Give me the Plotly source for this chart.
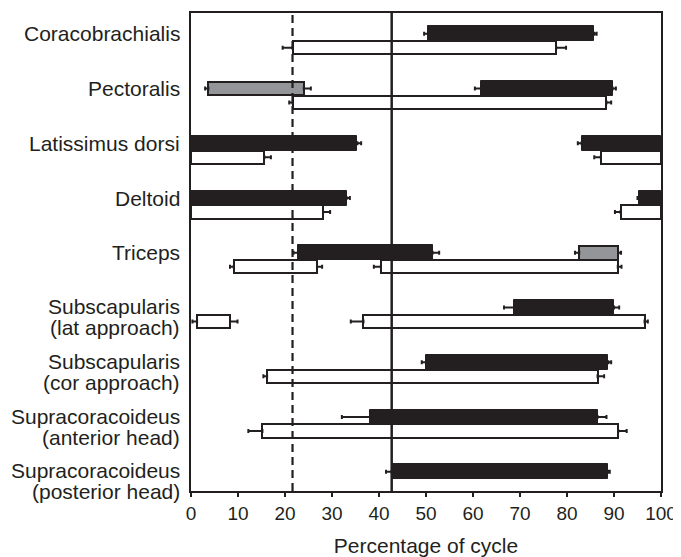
import plotly.graph_objects as go

# ---- Data ----
muscles = [
    ["Coracobrachialis"],
    ["Pectoralis"],
    ["Latissimus dorsi"],
    ["Deltoid"],
    ["Triceps"],
    ["Subscapularis", "(lat approach)"],
    ["Subscapularis", "(cor approach)"],
    ["Supracoracoideus", "(anterior head)"],
    ["Supracoracoideus", "(posterior head)"],
]

# black (top sub-row) activity segments
black_row = [0, 1, 2, 2, 3, 3, 4, 5, 6, 7, 8]
black_start = [50.5, 61.7, 0, 83.1, 0, 95.4, 22.8, 68.8, 50.0, 38.1, 42.7]
black_end = [85.8, 89.7, 35.4, 100, 33.1, 100, 51.4, 90.0, 88.8, 86.5, 88.7]
black_start_err = [0.9, 1.3, 0, 0.8, 0, 0.4, 1.0, 2.2, 0.9, 6.0, 1.2]
black_end_err = [0.5, 0.7, 0.8, 0, 0.7, 0, 1.4, 1.1, 0.6, 1.9, 0.4]

# grey (top sub-row) activity segments
gray_row = [1, 4]
gray_start = [3.7, 82.6]
gray_end = [24.0, 90.9]
gray_start_err = [0.7, 0.9]
gray_end_err = [1.5, 0.6]

# white (bottom sub-row) activity segments
white_row = [0, 1, 2, 2, 3, 3, 4, 4, 5, 5, 6, 7]
white_start = [21.6, 21.6, 0, 87.2, 0, 91.4, 9.1, 40.4, 1.3, 36.7, 16.2, 15.2]
white_end = [77.7, 88.4, 15.6, 100, 28.1, 100, 26.8, 90.8, 8.3, 96.5, 86.5, 90.9]
white_start_err = [2.1, 0.7, 0, 1.4, 0, 1.2, 0.8, 1.5, 1.0, 2.7, 0.8, 3.0]
white_end_err = [2.1, 1.0, 1.4, 0, 1.5, 0, 1.1, 0.8, 1.6, 0.7, 1.4, 1.8]

dashed_line_x = 21.6
solid_line_x = 42.7

x_ticks = [0, 10, 20, 30, 40, 50, 60, 70, 80, 90, 100]

# ---- Style ----
BLACK = "#231f20"
GRAY = "#939598"
WHITE_OFFSET = 0.252
FONT = "Liberation Sans, Arial, Helvetica, sans-serif"

fig = go.Figure()


def add_segments(rows, starts, ends, serr, eerr, fill, line_w, offset, height):
    ys = [r + offset for r in rows]
    fig.add_trace(go.Bar(
        orientation="h", y=ys, base=starts,
        x=[e - s for s, e in zip(starts, ends)],
        width=height,
        marker=dict(color=fill, line=dict(color=BLACK, width=line_w)),
        showlegend=False, hoverinfo="skip",
    ))
    # start whiskers (leftwards)
    sx = [s for s, er in zip(starts, serr) if er > 0]
    sy = [y for y, er in zip(ys, serr) if er > 0]
    se = [er for er in serr if er > 0]
    fig.add_trace(go.Scatter(
        x=sx, y=sy, mode="markers", marker=dict(size=1, opacity=0),
        error_x=dict(type="data", symmetric=False, array=[0] * len(se),
                     arrayminus=se, color=BLACK, thickness=2, width=2),
        showlegend=False, hoverinfo="skip",
    ))
    # end whiskers (rightwards)
    ex = [e for e, er in zip(ends, eerr) if er > 0]
    ey = [y for y, er in zip(ys, eerr) if er > 0]
    ee = [er for er in eerr if er > 0]
    fig.add_trace(go.Scatter(
        x=ex, y=ey, mode="markers", marker=dict(size=1, opacity=0),
        error_x=dict(type="data", symmetric=False, array=ee,
                     arrayminus=[0] * len(ee), color=BLACK, thickness=2, width=2),
        showlegend=False, hoverinfo="skip",
    ))


add_segments(white_row, white_start, white_end, white_start_err, white_end_err,
             "white", 2, WHITE_OFFSET, 0.242)
add_segments(black_row, black_start, black_end, black_start_err, black_end_err,
             BLACK, 1, 0, 0.272)
add_segments(gray_row, gray_start, gray_end, gray_start_err, gray_end_err,
             GRAY, 2, 0, 0.25)

fig.add_shape(type="line", xref="x", yref="paper", x0=dashed_line_x, x1=dashed_line_x,
              y0=0, y1=1, line=dict(color=BLACK, width=2.2, dash="8px,5px"), layer="above")
fig.add_shape(type="line", xref="x", yref="paper", x0=solid_line_x, x1=solid_line_x,
              y0=0, y1=1, line=dict(color=BLACK, width=2.5), layer="above")

# muscle labels (second line shifted down in pixels)
for i, lines in enumerate(muscles):
    shifts = [0] if len(lines) == 1 else [1, -20]
    for txt, ys in zip(lines, shifts):
        fig.add_annotation(x=0, xref="paper", y=i, yref="y", text=txt,
                           showarrow=False, xanchor="right", yanchor="middle",
                           xshift=-9, yshift=ys,
                           font=dict(size=21, color=BLACK, family=FONT))

fig.update_layout(
    width=673, height=549,
    margin=dict(l=183, r=20, t=3, b=65),
    plot_bgcolor="white", paper_bgcolor="white",
    barmode="overlay", bargap=0,
    font=dict(family=FONT, size=19, color=BLACK),
)
fig.update_xaxes(
    range=[0, 100], tickvals=x_ticks, ticks="outside", ticklen=4, tickwidth=2,
    tickcolor=BLACK, showline=True, linecolor=BLACK, linewidth=2, mirror=True,
    showgrid=False, zeroline=False, tickfont=dict(size=19),
    title=dict(text="Percentage of cycle", font=dict(size=21), standoff=16),
)
fig.update_yaxes(
    range=[8.35, -0.381], showticklabels=False, ticks="", showline=True,
    linecolor=BLACK, linewidth=2, mirror=True, showgrid=False, zeroline=False,
)

fig.write_html("out.html")
